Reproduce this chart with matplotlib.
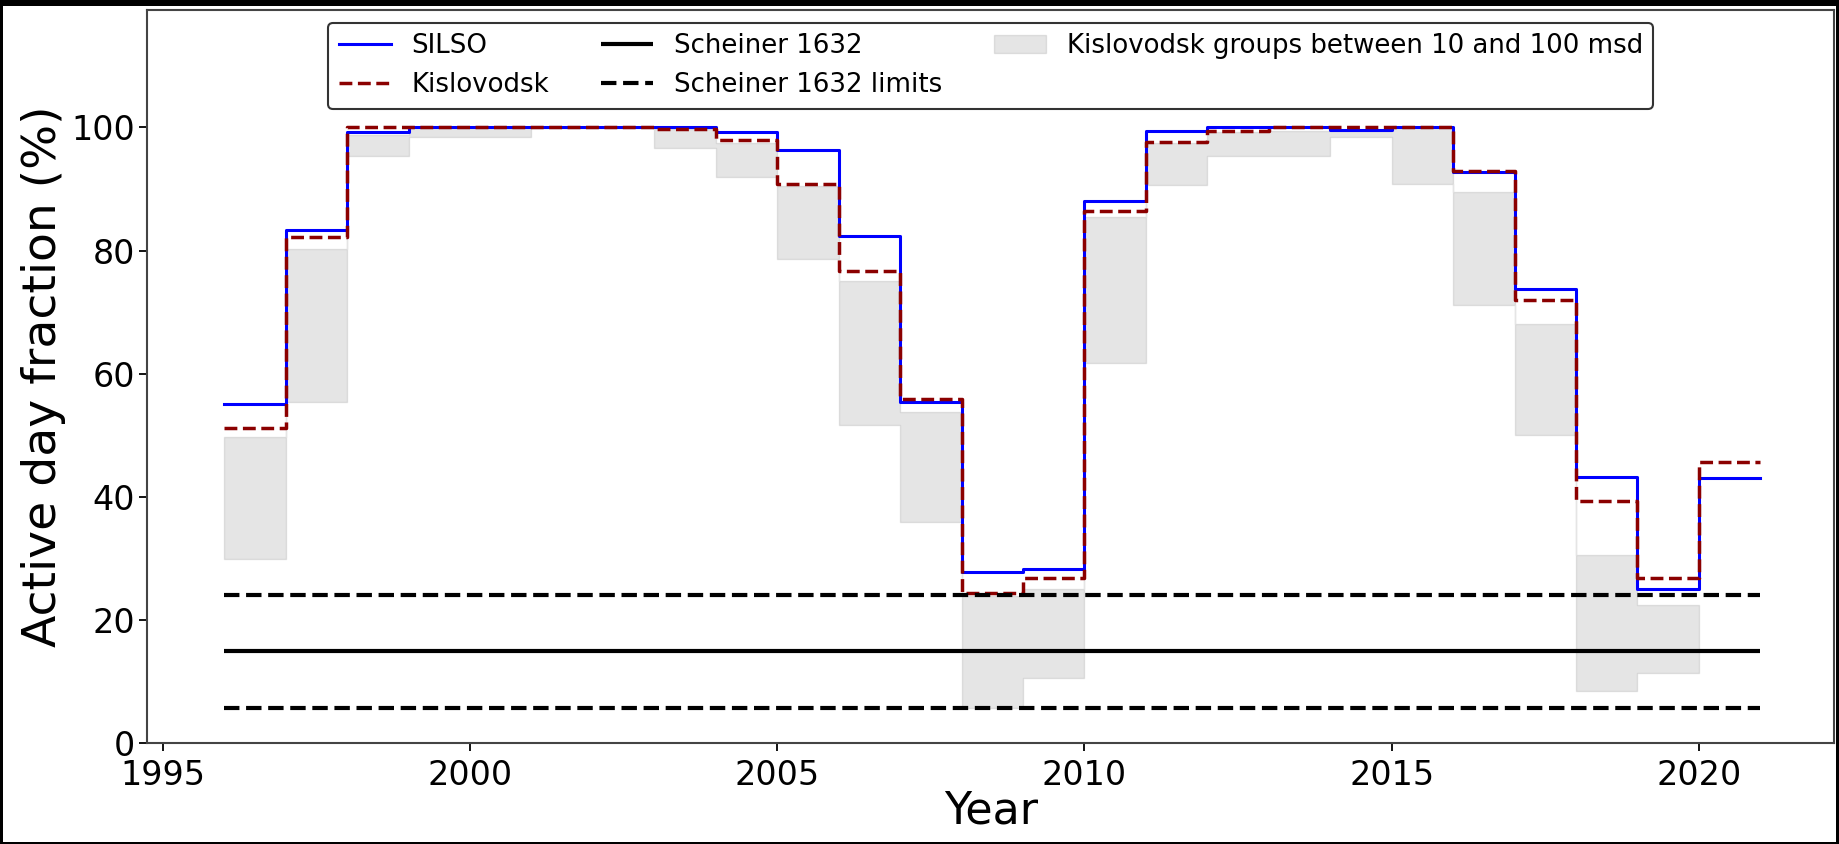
import matplotlib
matplotlib.use("Agg")
import matplotlib.pyplot as plt
import numpy as np
from matplotlib.patches import Rectangle

# yearly values, one per year starting 1996
years = np.arange(1996, 2021)
silso = [55.1, 83.4, 99.2, 100.0, 100.0, 100.0, 100.0, 100.0, 99.2, 96.4,
         82.4, 55.3, 27.7, 28.3, 88.1, 99.5, 100.0, 100.0, 99.6, 100.0,
         92.7, 73.7, 43.2, 25.0, 43.0]
kislovodsk = [51.1, 82.2, 100.0, 100.0, 100.0, 100.0, 100.0, 99.7, 97.9, 90.8,
              76.6, 55.8, 24.4, 26.7, 86.5, 97.7, 99.5, 100.0, 100.0, 100.0,
              92.9, 72.0, 39.3, 26.8, 45.7]

# Kislovodsk groups between 10 and 100 msd (band), 1996..2019
band_years = np.arange(1996, 2020)
band_lo = [29.8, 55.4, 95.4, 98.5, 98.5, 99.9, 99.9, 96.6, 92.0, 78.6,
           51.7, 35.9, 5.6, 10.6, 61.7, 90.7, 95.4, 95.4, 98.5, 90.8,
           71.1, 50.0, 8.4, 11.3]
band_hi = [49.7, 80.3, 98.8, 100.0, 100.0, 100.0, 100.0, 99.7, 97.5, 90.5,
           75.1, 53.8, 23.9, 25.0, 85.4, 97.5, 99.2, 99.5, 99.5, 100.0,
           89.5, 68.1, 30.5, 22.4]

scheiner = 14.85
scheiner_lo = 5.7
scheiner_hi = 24.0


def stepped(x, y):
    """Append the closing edge so step(where='post') covers the last year."""
    return np.r_[x, x[-1] + 1], np.r_[y, y[-1]]


fig = plt.figure(figsize=(18.39, 8.44), dpi=100, facecolor="black")
# white page inside the thin black screenshot border
fig.patches.append(Rectangle((3 / 1839, 2 / 844), 1833 / 1839, 836 / 844,
                             transform=fig.transFigure, facecolor="white",
                             edgecolor="none", zorder=-5))
ax = fig.add_axes([0.0802, 0.12, 0.9171, 0.8682])

bx, blo = stepped(band_years, band_lo)
_, bhi = stepped(band_years, band_hi)
ax.fill_between(bx, blo, bhi, step="post", color="grey", alpha=0.2,
                label="Kislovodsk groups between 10 and 100 msd")

sx, sy = stepped(years, silso)
ax.step(sx, sy, where="post", color="blue", lw=2.2, label="SILSO")
kx, ky = stepped(years, kislovodsk)
ax.step(kx, ky, where="post", color="darkred", lw=2.5, ls="--", label="Kislovodsk")

x0, x1 = years[0], years[-1] + 1
ax.hlines(scheiner, x0, x1, color="black", lw=3, label="Scheiner 1632")
ax.hlines(scheiner_hi, x0, x1, color="black", lw=3, ls="--",
          label="Scheiner 1632 limits")
ax.hlines(scheiner_lo, x0, x1, color="black", lw=3, ls="--")

ax.set_xlim(1994.75, 2022.2)
ax.set_ylim(0, 119.1)
ax.set_yticks([0, 20, 40, 60, 80, 100])
ax.set_xticks([1995, 2000, 2005, 2010, 2015, 2020])
ax.tick_params(labelsize=24, length=6, width=1.3)
ax.tick_params(axis="x", pad=6)
ax.tick_params(axis="y", pad=3)
for s in ax.spines.values():
    s.set_color("#444444")
    s.set_linewidth(1.5)

ax.set_xlabel("Year", fontsize=32, labelpad=-2)
ax.set_ylabel("Active day fraction (%)", fontsize=34, labelpad=4)

handles, labels = ax.get_legend_handles_labels()
order = [labels.index(n) for n in ["SILSO", "Kislovodsk", "Scheiner 1632",
                                   "Scheiner 1632 limits",
                                   "Kislovodsk groups between 10 and 100 msd"]]
leg = ax.legend([handles[i] for i in order], [labels[i] for i in order],
                loc="upper center", ncol=3, fontsize=18.7, framealpha=1,
                edgecolor="#333333")
leg.get_frame().set_linewidth(1.5)

fig.savefig("out.png", dpi=100, facecolor=fig.get_facecolor())
